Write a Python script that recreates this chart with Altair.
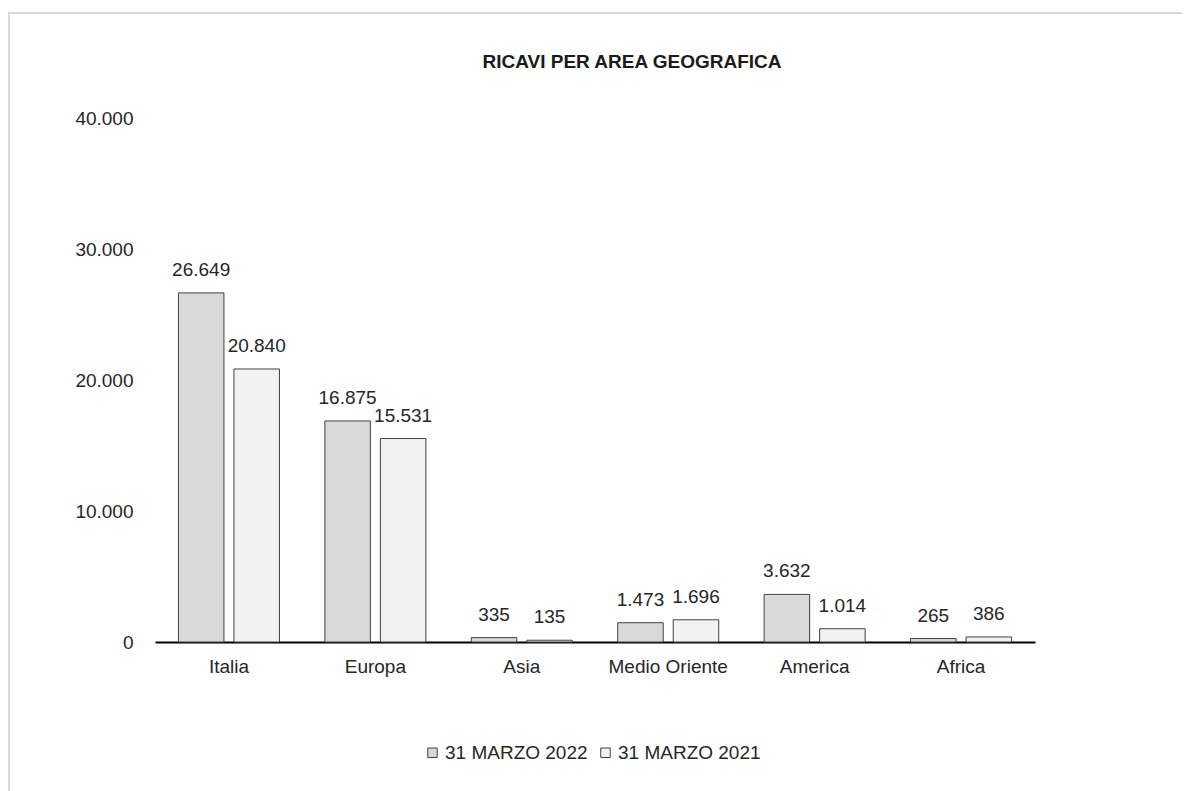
import altair as alt
import pandas as pd

areas = ["Italia", "Europa", "Asia", "Medio Oriente", "America", "Africa"]
series = ["31 MARZO 2022", "31 MARZO 2021"]
values_2022 = [26649, 16875, 335, 1473, 3632, 265]
values_2021 = [20840, 15531, 135, 1696, 1014, 386]
y_ticks = [0, 10000, 20000, 30000, 40000]
title_text = "RICAVI PER AREA GEOGRAFICA"

rows = []
for a, v1, v2 in zip(areas, values_2022, values_2021):
    rows.append({"Area": a, "Serie": series[0], "Valore": v1})
    rows.append({"Area": a, "Serie": series[1], "Valore": v2})
df = pd.DataFrame(rows)

FONT = "Liberation Sans"

x_enc = alt.X("Area:N", sort=areas,
              scale=alt.Scale(paddingInner=0.31, paddingOuter=0.16),
              axis=alt.Axis(title=None, labelAngle=0, labelFontSize=19, labelColor="#262626",
                            labelFont=FONT, labelPadding=15, ticks=False,
                            domainColor="#000000", domainWidth=2))
xoff = alt.XOffset("Serie:N", sort=series, scale=alt.Scale(paddingInner=0.18))
y_enc = alt.Y("Valore:Q", scale=alt.Scale(domain=[0, 40000]),
              axis=alt.Axis(title=None, values=y_ticks, grid=False, domain=False, ticks=False,
                            labelFontSize=19, labelColor="#262626", labelFont=FONT,
                            labelPadding=22,
                            labelExpr="replace(format(datum.value, ',d'), ',', '.')"))

bars = alt.Chart(df).mark_bar(stroke="#404040", strokeWidth=1).encode(
    x=x_enc,
    xOffset=xoff,
    y=y_enc,
    color=alt.Color("Serie:N", sort=series,
                    scale=alt.Scale(domain=series, range=["#D9D9D9", "#F2F2F2"]),
                    legend=alt.Legend(title=None, orient="none", legendX=268, legendY=625,
                                      direction="horizontal", symbolType="square",
                                      symbolSize=90, symbolStrokeColor="#404040",
                                      symbolStrokeWidth=1, labelFontSize=19,
                                      labelColor="#262626", labelFont=FONT,
                                      labelOffset=3, columnPadding=8)),
)

labels = alt.Chart(df).transform_calculate(
    lab="replace(format(datum.Valore, ',d'), ',', '.')"
).mark_text(baseline="alphabetic", dy=-17, fontSize=19, font=FONT, color="#262626").encode(
    x=alt.X("Area:N", sort=areas),
    xOffset=alt.XOffset("Serie:N", sort=series),
    y="Valore:Q",
    text="lab:N",
)

frame = alt.Chart(pd.DataFrame({"k": [0]})).mark_rect(
    fill=None, stroke="#D9D9D9", strokeWidth=2
).encode(
    x=alt.value(-146), x2=alt.value(1100), y=alt.value(-105), y2=alt.value(720)
)

chart = alt.layer(frame, bars, labels).properties(
    width=880, height=524,
    title=alt.TitleParams(title_text, fontSize=19, fontWeight="bold", font=FONT,
                          color="#1a1a1a", anchor="middle", frame="group", dx=37,
                          offset=-60, limit=0),
    autosize=alt.AutoSizeParams(type="none"),
    padding={"left": 147, "top": 110, "right": 147, "bottom": 160},
).configure_view(stroke=None).configure_title(fontSize=19)

chart.save("out.html", embed_options={"renderer": "svg", "actions": False})
